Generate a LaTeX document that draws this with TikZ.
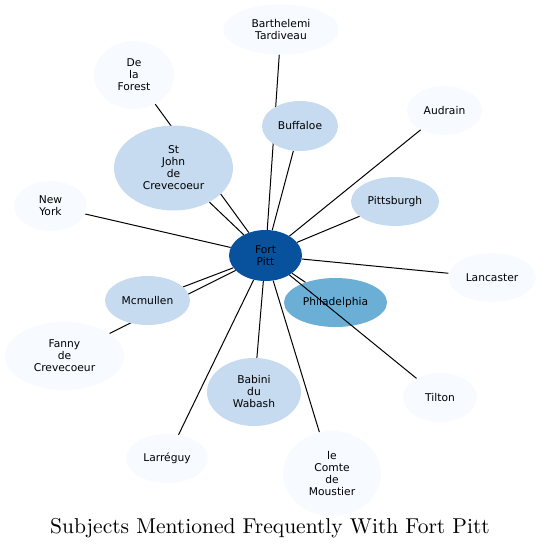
\documentclass[tikz,border=0pt]{standalone}
\usepackage{fontspec}
\usetikzlibrary{shapes.geometric, backgrounds}
\newfontfamily\nodefont{DejaVu Sans}
\definecolor{hubcolor}{RGB}{8,81,156}
\definecolor{strongcolor}{RGB}{107,174,214}
\definecolor{midcolor}{RGB}{198,219,239}
\definecolor{leafcolor}{RGB}{247,251,255}
\tikzset{
    subject/.style={ellipse, inner sep=0pt, align=center, text=black,
        font=\nodefont\fontsize{10.7}{12}\selectfont},
    hub/.style={subject, fill=hubcolor},
    strongnode/.style={subject, fill=strongcolor},
    midnode/.style={subject, fill=midcolor},
    leafnode/.style={subject, fill=leafcolor},
    link/.style={black, line width=1pt},
    caption/.style={font=\fontsize{10}{12}\selectfont}
}

\begin{document}
\begin{tikzpicture}[x=1pt, y=-1pt]
    \useasboundingbox (0,0) rectangle (540,551);

    \node[hub, minimum width=73pt, minimum height=51pt] (fortpitt) at (265.5,255.5) {Fort\\Pitt};

    \node[leafnode, minimum width=116pt, minimum height=50pt] (tardiveau) at (281,29.5) {Barthelemi\\Tardiveau};
    \node[leafnode, minimum width=80pt, minimum height=68pt] (forest) at (134,75) {De\\la\\Forest};
    \node[midnode, minimum width=76pt, minimum height=50pt] (buffaloe) at (300,126) {Buffaloe};
    \node[leafnode, minimum width=75pt, minimum height=49pt] (audrain) at (444.5,110.5) {Audrain};
    \node[midnode, minimum width=119pt, minimum height=85pt] (stjohn) at (173.5,168) {St\\John\\de\\Crevecoeur};
    \node[leafnode, minimum width=73pt, minimum height=50pt] (newyork) at (50.5,206) {New\\York};
    \node[midnode, minimum width=88pt, minimum height=49pt] (pittsburgh) at (395,201.5) {Pittsburgh};
    \node[leafnode, minimum width=88pt, minimum height=49pt] (lancaster) at (492,277.5) {Lancaster};
    \node[strongnode, minimum width=103pt, minimum height=49pt] (philadelphia) at (335.5,302.5) {Philadelphia};
    \node[midnode, minimum width=85pt, minimum height=49pt] (mcmullen) at (147.5,300.5) {Mcmullen};
    \node[leafnode, minimum width=119pt, minimum height=68pt] (fanny) at (64.5,356) {Fanny\\de\\Crevecoeur};
    \node[midnode, minimum width=94pt, minimum height=68pt] (babini) at (254,392) {Babini\\du\\Wabash};
    \node[leafnode, minimum width=82pt, minimum height=49pt] (larreguy) at (167,458.5) {Larréguy};
    \node[leafnode, minimum width=74pt, minimum height=49pt] (tilton) at (440,397.5) {Tilton};
    \node[leafnode, minimum width=98pt, minimum height=85pt] (moustier) at (332,473.5) {le\\Comte\\de\\Moustier};

    \node[caption] (title) at (270,528) {\scalebox{2.15}{Subjects Mentioned Frequently With Fort Pitt}};

    % links run under the nodes they pass
    \begin{scope}[on background layer]
        \draw[link] (fortpitt) -- (tardiveau);
        \draw[link] (fortpitt) -- (forest);
        \draw[link] (fortpitt) -- (buffaloe);
        \draw[link] (fortpitt) -- (audrain);
        \draw[link] (fortpitt) -- (stjohn);
        \draw[link] (fortpitt) -- (newyork);
        \draw[link] (fortpitt) -- (pittsburgh);
        \draw[link] (fortpitt) -- (lancaster);
        \draw[link] (fortpitt) -- (philadelphia);
        \draw[link] (fortpitt) -- (mcmullen);
        \draw[link] (fortpitt) -- (fanny);
        \draw[link] (fortpitt) -- (babini);
        \draw[link] (fortpitt) -- (larreguy);
        \draw[link] (fortpitt) -- (moustier);
    \end{scope}
    \draw[link] (fortpitt) -- (tilton);

\end{tikzpicture}
\end{document}
